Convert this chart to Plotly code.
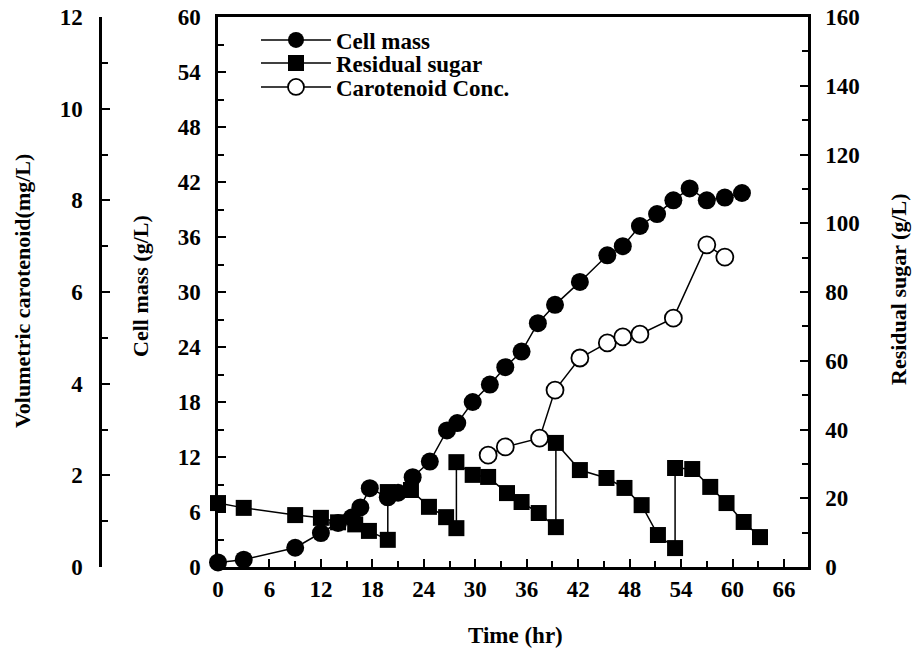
import plotly.graph_objects as go

# Fed-batch fermentation time course
time_cell = [0, 3, 9, 12, 14, 15.6, 16.6, 17.7, 19.8, 21.0, 22.7, 24.7, 26.7, 27.9,
             29.7, 31.7, 33.5, 35.4, 37.3, 39.3, 42.2, 45.4, 47.2, 49.2, 51.2, 53.1,
             55.0, 57.0, 59.1, 61.1]
cell_mass = [0.5, 0.8, 2.1, 3.7, 4.8, 5.4, 6.5, 8.6, 7.6, 8.1, 9.8, 11.5, 14.9, 15.7,
             18.0, 19.9, 21.8, 23.5, 26.6, 28.6, 31.1, 34.0, 35.0, 37.2, 38.5, 40.0,
             41.3, 40.0, 40.3, 40.8]

# repeated time values mark the sugar feeding pulses
time_sugar = [0, 3, 9, 12, 14, 16, 17.6, 19.8, 19.8, 22.5, 24.6, 26.6, 27.8, 27.8,
              29.7, 31.5, 33.7, 35.4, 37.4, 39.4, 39.4, 42.2, 45.3, 47.4, 49.4, 51.3,
              53.3, 53.3, 55.3, 57.4, 59.3, 61.3, 63.2]
residual_sugar = [18.6, 17.2, 15.1, 14.3, 13.0, 12.4, 10.5, 7.9, 21.8, 22.4, 17.5, 14.5,
                  11.3, 30.5, 26.8, 26.2, 21.5, 18.9, 15.7, 11.6, 36.1, 28.2, 25.9, 23.0,
                  18.0, 9.3, 5.5, 28.8, 28.5, 23.3, 18.6, 13.1, 8.7]

time_car = [31.5, 33.5, 37.5, 39.3, 42.2, 45.4, 47.2, 49.2, 53.1, 57.0, 59.1]
carotenoid = [2.44, 2.62, 2.81, 3.86, 4.56, 4.89, 5.02, 5.08, 5.43, 7.03, 6.76]

x_ticks = list(range(0, 67, 6))
cell_ticks = list(range(0, 61, 6))
car_ticks = list(range(0, 13, 2))
sugar_ticks = list(range(0, 161, 20))

W, H = 913, 651
FONT = "Liberation Serif"
tick_font = dict(family=FONT, size=23, color="black", weight="bold")
legend_font = dict(family=FONT, size=23, color="black", weight="bold")

def px_x(p):
    return p / W

def px_y(p):
    return 1 - p / H

fig = go.Figure()

fig.add_trace(go.Scatter(
    x=time_cell, y=cell_mass, name="Cell mass", mode="lines+markers",
    line=dict(color="black", width=1.5),
    marker=dict(symbol="circle", size=18, color="black"),
    cliponaxis=False, yaxis="y", legend="legend"))
fig.add_trace(go.Scatter(
    x=time_sugar, y=residual_sugar, name="Residual sugar", mode="lines+markers",
    line=dict(color="black", width=1.5),
    marker=dict(symbol="square", size=16, color="black"),
    cliponaxis=False, yaxis="y3", legend="legend2"))
fig.add_trace(go.Scatter(
    x=time_car, y=carotenoid, name="Carotenoid Conc.", mode="lines+markers",
    line=dict(color="black", width=1.5),
    marker=dict(symbol="circle", size=17, color="white",
                line=dict(color="black", width=1.8)),
    cliponaxis=False, yaxis="y2", legend="legend3"))

x0, x1 = 218, 808
y_top, y_bot = 17, 567
dom_y = [px_y(y_bot), px_y(y_top)]

axis_common = dict(showgrid=False, zeroline=False, showline=True, linecolor="black",
                   linewidth=2.5, ticks="inside", tickcolor="black", tickwidth=2,
                   ticklen=8, tickfont=tick_font, automargin=False)

def minor(step):
    return dict(ticks="inside", dtick=step, tick0=0, ticklen=6, tickwidth=2,
                tickcolor="black")

def legend_box(y_center):
    return dict(x=px_x(256), y=px_y(y_center), xanchor="left", yanchor="middle",
                bgcolor="rgba(0,0,0,0)", borderwidth=0, font=legend_font,
                itemwidth=70)

fig.update_layout(
    template="none",
    width=W, height=H,
    margin=dict(l=0, r=0, t=0, b=0, autoexpand=False),
    paper_bgcolor="white", plot_bgcolor="white",
    showlegend=True,
    legend=legend_box(40),
    legend2=legend_box(63),
    legend3=legend_box(87),
    xaxis=dict(domain=[px_x(x0), px_x(x1)], range=[0, 68.8],
               tickvals=x_ticks, mirror=True, ticklabelstandoff=0,
               minor=minor(3), **axis_common),
    yaxis=dict(domain=dom_y, range=[0, 60], tickvals=cell_ticks,
               ticklabelstandoff=10, minor=minor(3), **axis_common),
    yaxis2=dict(domain=dom_y, range=[0, 12], tickvals=car_ticks, overlaying="y",
                anchor="free", side="left", position=px_x(100),
                ticklabelstandoff=12, minor=minor(1), **axis_common),
    yaxis3=dict(domain=dom_y, range=[0, 160], tickvals=sugar_ticks, overlaying="y",
                anchor="x", side="right", ticklabelstandoff=10,
                minor=minor(10), **axis_common),
)

title_font = dict(family=FONT, size=22, color="black", weight="bold")
titles = [
    ("Time (hr)", 515, 635, 0, 23),
    ("Volumetric carotenoid(mg/L)", 23, 291, -90, 22),
    ("Cell mass (g/L)", 140, 286, -90, 22),
    ("Residual sugar (g/L)", 898, 289, -90, 22),
]
for text, tx, ty, ang, size in titles:
    fig.add_annotation(text=text, x=px_x(tx), y=px_y(ty), xref="paper", yref="paper",
                       xanchor="center", yanchor="middle", showarrow=False,
                       textangle=ang, font=dict(title_font, size=size))

fig.write_html("out.html")
